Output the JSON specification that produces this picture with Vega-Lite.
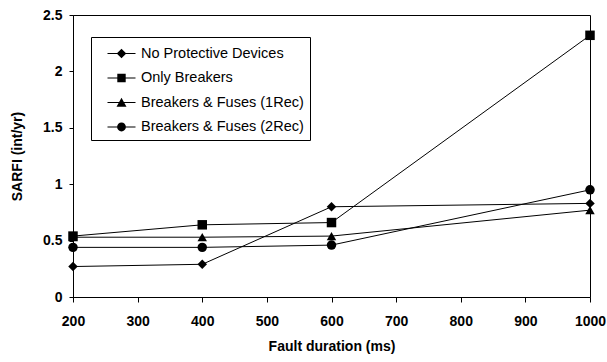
{
  "$schema": "https://vega.github.io/schema/vega-lite/v6.json",
  "width": 517,
  "height": 282,
  "autosize": "none",
  "padding": {"left": 73, "top": 15, "right": 17, "bottom": 65},
  "background": "white",
  "config": {
    "view": {"stroke": "black", "strokeWidth": 1},
    "font": "Liberation Sans",
    "axis": {"grid": false, "domainColor": "black", "tickColor": "black", "labelColor": "black", "titleColor": "black", "labelFont": "Liberation Sans", "titleFont": "Liberation Sans", "labelFontWeight": "bold", "titleFontWeight": "bold", "labelFontSize": 14, "titleFontSize": 14}
  },
  "data": {
    "values": [
      {"series": "No Protective Devices", "duration": 200, "sarfi": 0.27},
      {"series": "No Protective Devices", "duration": 400, "sarfi": 0.29},
      {"series": "No Protective Devices", "duration": 600, "sarfi": 0.80},
      {"series": "No Protective Devices", "duration": 1000, "sarfi": 0.83},
      {"series": "Only Breakers", "duration": 200, "sarfi": 0.54},
      {"series": "Only Breakers", "duration": 400, "sarfi": 0.64},
      {"series": "Only Breakers", "duration": 600, "sarfi": 0.66},
      {"series": "Only Breakers", "duration": 1000, "sarfi": 2.32},
      {"series": "Breakers & Fuses (1Rec)", "duration": 200, "sarfi": 0.53},
      {"series": "Breakers & Fuses (1Rec)", "duration": 400, "sarfi": 0.53},
      {"series": "Breakers & Fuses (1Rec)", "duration": 600, "sarfi": 0.54},
      {"series": "Breakers & Fuses (1Rec)", "duration": 1000, "sarfi": 0.77},
      {"series": "Breakers & Fuses (2Rec)", "duration": 200, "sarfi": 0.44},
      {"series": "Breakers & Fuses (2Rec)", "duration": 400, "sarfi": 0.44},
      {"series": "Breakers & Fuses (2Rec)", "duration": 600, "sarfi": 0.46},
      {"series": "Breakers & Fuses (2Rec)", "duration": 1000, "sarfi": 0.95}
    ]
  },
  "encoding": {
    "x": {
      "field": "duration", "type": "quantitative",
      "scale": {"domain": [200, 1000], "nice": false, "zero": false},
      "axis": {"values": [200, 300, 400, 500, 600, 700, 800, 900, 1000], "format": "d", "tickSize": 5, "labelPadding": 12, "title": "Fault duration (ms)", "titleX": 258.5, "titleY": 49, "titleBaseline": "middle", "titleAlign": "center", "labelFlush": false}
    },
    "y": {
      "field": "sarfi", "type": "quantitative",
      "scale": {"domain": [0, 2.5], "nice": false},
      "axis": {"values": [0, 0.5, 1, 1.5, 2, 2.5], "format": "~g", "tickSize": 4, "labelPadding": 7, "title": "SARFI (int/yr)", "titleX": -56, "titleY": 141, "titleAngle": -90, "titleBaseline": "middle", "titleAlign": "center", "labelFlush": false}
    }
  },
  "layer": [
    {
      "mark": {"type": "line", "color": "black", "strokeWidth": 1},
      "encoding": {"detail": {"field": "series", "type": "nominal"}}
    },
    {
      "mark": {"type": "point", "filled": true, "color": "black", "opacity": 1, "size": 90},
      "encoding": {
        "shape": {
          "field": "series", "type": "nominal",
          "scale": {"domain": ["No Protective Devices", "Only Breakers", "Breakers & Fuses (1Rec)", "Breakers & Fuses (2Rec)"], "range": ["diamond", "square", "triangle-up", "circle"]},
          "legend": null
        }
      }
    },
    {
      "transform": [{"filter": {"field": "sarfi", "lt": -1}}],
      "mark": {"type": "point", "filled": true, "color": "black", "opacity": 1},
      "encoding": {
        "shape": {
          "field": "series", "type": "nominal",
          "scale": {"domain": ["No Protective Devices", "Only Breakers", "Breakers & Fuses (1Rec)", "Breakers & Fuses (2Rec)"], "range": [
            "M0,-0.05L2.8,-0.05L2.8,0.05L0,0.05ZM1.4,-0.48L1.88,0L1.4,0.48L0.92,0Z",
            "M0,-0.05L2.8,-0.05L2.8,0.05L0,0.05ZM0.98,-0.42L1.82,-0.42L1.82,0.42L0.98,0.42Z",
            "M0,-0.05L2.8,-0.05L2.8,0.05L0,0.05ZM1.4,-0.48L1.9,0.42L0.9,0.42Z",
            "M0,-0.05L2.8,-0.05L2.8,0.05L0,0.05ZM0.96,0A0.44,0.44 0 1,1 1.84,0A0.44,0.44 0 1,1 0.96,0Z"
          ]},
          "legend": {
            "title": null,
            "orient": "none",
            "legendX": 18,
            "legendY": 22,
            "direction": "vertical",
            "strokeColor": "black",
            "fillColor": "white",
            "padding": 5.5,
            "symbolSize": 400,
            "symbolFillColor": "black",
            "labelFont": "Liberation Sans",
            "labelFontSize": 14.5,
            "labelColor": "black",
            "labelOffset": 22.5,
            "rowPadding": 5.5,
            "labelLimit": 300
          }
        }
      }
    }
  ],
  "resolve": {"scale": {"shape": "independent"}}
}
